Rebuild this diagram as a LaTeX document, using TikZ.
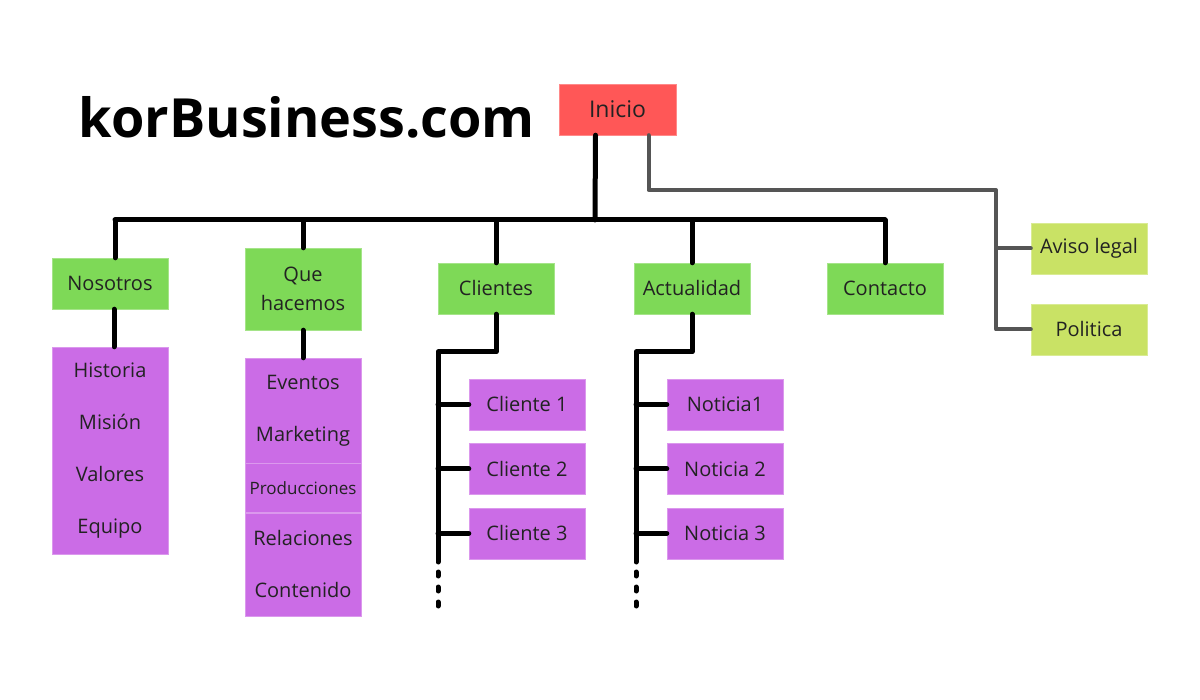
\documentclass[tikz,border=0pt]{standalone}
\usepackage{fontspec}
\setmainfont{Open Sans}
\usetikzlibrary{positioning}
\definecolor{rojo}{HTML}{FF5757}
\definecolor{verde}{HTML}{7ED957}
\definecolor{lila}{HTML}{CB6CE6}
\definecolor{lima}{HTML}{C9E265}
\definecolor{gris}{HTML}{555555}
\definecolor{texto}{HTML}{222222}
\begin{document}
\begin{tikzpicture}[x=1pt,y=-1pt] % mapa del sitio
\tikzstyle{caja} = [minimum width=116pt, minimum height=51pt, inner sep=0pt, text=texto, font=\fontsize{20}{24}\selectfont] % estilo base de las cajas
\tikzstyle{inicio} = [caja, fill=rojo, draw=rojo!70!white, minimum width=117pt, font=\fontsize{23}{27}\selectfont]
\tikzstyle{seccion} = [caja, fill=verde, draw=verde!70!white] % secciones principales
\tikzstyle{extra} = [caja, fill=lima, draw=lima!70!white] % paginas legales
\tikzstyle{sub} = [caja, fill=lila, draw=lila!70!white, align=center] % subpaginas
\tikzstyle{rama} = [line width=5pt, line cap=round, line join=round] % lineas negras
\tikzstyle{ramagris} = [rama, draw=gris, line width=4pt]
\useasboundingbox (0,0) rectangle (1200,700);

\node[font=\fontsize{54}{60}\bfseries] (titulo) at (307,117) {korBusiness.com};
\node[inicio] (ini) at (617.5,109.5) {Inicio};

% secciones
\node[seccion] (nos) at (110,283.5) {Nosotros};
\node[seccion, minimum height=82pt, align=center, font=\fontsize{20}{29}\selectfont] (que) at (303,289) {Que\\hacemos};
\node[seccion] (cli) at (496,288.5) {Clientes};
\node[seccion] (act) at (692,288.5) {Actualidad};
\node[seccion] (con) at (885,288.5) {Contacto};
\node[extra] (aviso) at (1089,248.5) {Aviso legal};
\node[extra] (pol) at (1089,329.5) {Politica};

% listas bajo las secciones
\node[sub, minimum height=207pt, font=\fontsize{20}{52}\selectfont] (nosl) at (110,450.5) {Historia\\Misión\\Valores\\Equipo};
\node[sub, minimum height=105pt, font=\fontsize{20}{52}\selectfont] (quea) at (303,410.5) {Eventos\\Marketing};
\node[sub, minimum height=49pt, font=\fontsize{17}{20}\selectfont, below=0pt of quea] (queb) {Producciones};
\node[sub, minimum height=103pt, font=\fontsize{20}{52}\selectfont, below=0pt of queb] (quec) {Relaciones\\Contenido};

\node[sub] (cli1) at (527,404.5) {Cliente 1};
\node[sub, below=13pt of cli1] (cli2) {Cliente 2};
\node[sub, below=13pt of cli2] (cli3) {Cliente 3};
\node[sub] (not1) at (725,404.5) {Noticia1};
\node[sub, below=13pt of not1] (not2) {Noticia 2};
\node[sub, below=13pt of not2] (not3) {Noticia 3};

% conectores
\coordinate (bus) at (595,220);
\coordinate (gv) at (996,190);
\coordinate (cv) at (438,352);
\coordinate (av) at (636,352);
\draw[rama] ([xshift=-22pt]ini.south) -- (bus);
\draw[rama] ([xshift=5pt]nos.north |- bus) -- (con.north |- bus);
\draw[rama] ([xshift=5pt]nos.north |- bus) -- ([xshift=5pt]nos.north);
\foreach \s in {que,cli,act,con}
  \draw[rama] (\s.north |- bus) -- (\s.north);
\draw[ramagris] ([xshift=31pt]ini.south) |- (gv) |- (pol.west);
\draw[ramagris] (gv |- aviso) -- (aviso.west);
\draw[rama] ([xshift=4pt]nos.south) -- ([xshift=4pt]nosl.north);
\draw[rama] (que.south) -- (quea.north);
\draw[rama] (cli.south) |- (cv) -- (cv |- 0,562);
\draw[rama] (act.south) |- (av) -- (av |- 0,562);
\foreach \k in {1,2,3} {
  \draw[rama] (cv |- cli\k) -- (cli\k.west);
  \draw[rama] (av |- not\k) -- (not\k.west);
}
% puntos suspensivos
\draw[rama, dash pattern=on 4pt off 11pt] (cv |- 0,572) -- (cv |- 0,610);
\draw[rama, dash pattern=on 4pt off 11pt] (av |- 0,572) -- (av |- 0,610);
\end{tikzpicture}
\end{document}
